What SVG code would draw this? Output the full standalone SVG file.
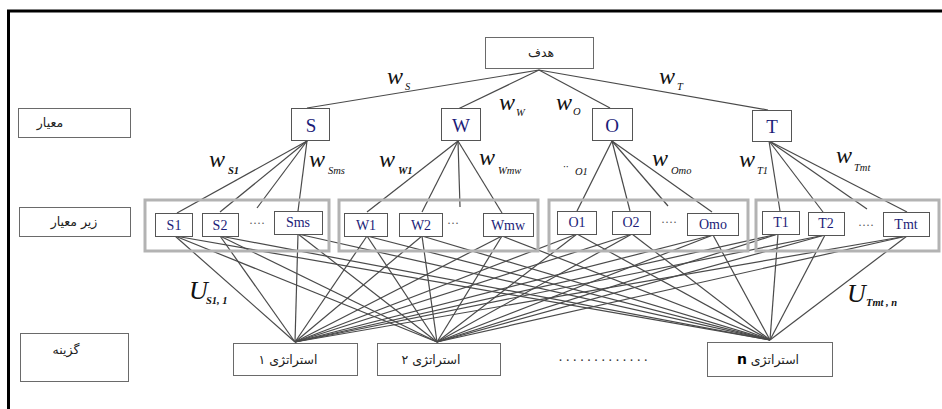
<svg xmlns="http://www.w3.org/2000/svg" width="942" height="409" viewBox="0 0 942 409">
<defs>
<style>
.frame{stroke:#000;stroke-width:3;fill:none}
.lbl{fill:#fff;stroke:#6a6a6a;stroke-width:1}
.fa{font-family:"DejaVu Sans",sans-serif;font-size:12.5px;fill:#222;text-anchor:middle}
.crit{fill:#fff;stroke:#555;stroke-width:1}
.ct{font-family:"Liberation Serif",serif;font-size:19px;text-anchor:middle;fill:#1c1c78}
.grp{fill:none;stroke:#b3b3b3;stroke-width:3}
.sub{fill:#fff;stroke:#555;stroke-width:1}
.st{font-family:"Liberation Serif",serif;font-size:14px;text-anchor:middle;fill:#1c1c78}
.dots{font-family:"Liberation Serif",serif;font-size:12px;text-anchor:middle;fill:#555}
.w{font-family:"Liberation Serif",serif;font-style:italic;font-size:24px;fill:#111}
.ws{font-family:"Liberation Serif",serif;font-style:italic;font-size:10.5px;fill:#111}
.u{font-family:"Liberation Serif",serif;font-style:italic;font-size:26px;fill:#111}
.con line{stroke:#4a4a4a;stroke-width:1.2}
</style>
</defs>
<rect width="942" height="409" fill="#fff"/>
<path class="frame" d="M8.5 409 V11 H942"/>

<g id="connectors" class="con">
<line x1="539" y1="70" x2="307" y2="108"/>
<line x1="539" y1="70" x2="458" y2="109"/>
<line x1="539" y1="70" x2="610" y2="108"/>
<line x1="539" y1="70" x2="768" y2="110"/>

<line x1="307" y1="141" x2="177" y2="213"/>
<line x1="307" y1="141" x2="220" y2="212"/>
<line x1="307" y1="141" x2="257" y2="208"/>
<line x1="307" y1="141" x2="298" y2="211"/>
<line x1="458" y1="141" x2="367" y2="212"/>
<line x1="458" y1="141" x2="422" y2="212"/>
<line x1="458" y1="141" x2="460" y2="207"/>
<line x1="458" y1="141" x2="502" y2="213"/>
<line x1="612" y1="141" x2="577" y2="211"/>
<line x1="612" y1="141" x2="630" y2="211"/>
<line x1="612" y1="141" x2="668" y2="206"/>
<line x1="612" y1="141" x2="712" y2="212"/>
<line x1="769" y1="141" x2="780" y2="211"/>
<line x1="769" y1="141" x2="823" y2="212"/>
<line x1="769" y1="141" x2="867" y2="209"/>
<line x1="769" y1="141" x2="907" y2="212"/>

<line x1="175" y1="236" x2="295" y2="342"/><line x1="175" y1="236" x2="437" y2="342"/><line x1="175" y1="236" x2="770" y2="340"/>
<line x1="220" y1="236" x2="295" y2="342"/><line x1="220" y1="236" x2="437" y2="342"/><line x1="220" y1="236" x2="770" y2="340"/>
<line x1="298" y1="234" x2="295" y2="342"/><line x1="298" y1="234" x2="437" y2="342"/><line x1="298" y1="234" x2="770" y2="340"/>
<line x1="367" y1="236" x2="295" y2="342"/><line x1="367" y1="236" x2="437" y2="342"/><line x1="367" y1="236" x2="770" y2="340"/>
<line x1="422" y1="236" x2="295" y2="342"/><line x1="422" y1="236" x2="437" y2="342"/><line x1="422" y1="236" x2="770" y2="340"/>
<line x1="502" y1="236" x2="295" y2="342"/><line x1="502" y1="236" x2="437" y2="342"/><line x1="502" y1="236" x2="770" y2="340"/>
<line x1="577" y1="234" x2="295" y2="342"/><line x1="577" y1="234" x2="437" y2="342"/><line x1="577" y1="234" x2="770" y2="340"/>
<line x1="632" y1="234" x2="295" y2="342"/><line x1="632" y1="234" x2="437" y2="342"/><line x1="632" y1="234" x2="770" y2="340"/>
<line x1="713" y1="235" x2="295" y2="342"/><line x1="713" y1="235" x2="437" y2="342"/><line x1="713" y1="235" x2="770" y2="340"/>
<line x1="778" y1="234" x2="295" y2="342"/><line x1="778" y1="234" x2="437" y2="342"/><line x1="778" y1="234" x2="770" y2="340"/>
<line x1="825" y1="235" x2="295" y2="342"/><line x1="825" y1="235" x2="437" y2="342"/><line x1="825" y1="235" x2="770" y2="340"/>
<line x1="907" y1="236" x2="295" y2="342"/><line x1="907" y1="236" x2="437" y2="342"/><line x1="907" y1="236" x2="770" y2="340"/>
</g>

<g id="weights">
<text class="w" x="387" y="84">w</text><text class="ws" x="405" y="90">S</text>
<text class="w" x="499" y="110">w</text><text class="ws" x="516" y="116">W</text>
<text class="w" x="556" y="110">w</text><text class="ws" x="573" y="115">O</text>
<text class="w" x="659" y="84">w</text><text class="ws" x="677" y="90">T</text>
<text class="w" x="209" y="167">w</text><text class="ws" x="228" y="174" font-weight="bold">S1</text>
<text class="w" x="309" y="167">w</text><text class="ws" x="328" y="174" font-size="9.5">Sms</text>
<text class="w" x="379" y="167">w</text><text class="ws" x="398" y="174" font-weight="bold">W1</text>
<text class="w" x="479" y="165">w</text><text class="ws" x="498" y="174" font-size="9.5">Wmw</text>
<text class="ws" x="563" y="170" font-size="11">··</text><text class="ws" x="575" y="175" font-size="11">O1</text>
<text class="w" x="652" y="166">w</text><text class="ws" x="671" y="174" font-size="10.5">Omo</text>
<text class="w" x="739" y="167">w</text><text class="ws" x="757" y="174" font-size="11">T1</text>
<text class="w" x="836" y="163">w</text><text class="ws" x="854" y="171" font-size="9.5">Tmt</text>
<text class="u" x="189" y="299">U</text><text class="ws" x="206" y="304" font-size="9" font-weight="bold">S1, 1</text>
<text class="u" x="847" y="302">U</text><text class="ws" x="866" y="306" font-size="8" font-weight="bold">Tmt , n</text>
</g>

<g id="goal"><rect class="lbl" x="485.5" y="37.5" width="108" height="31"/><text class="fa" x="541" y="57" direction="rtl">هدف</text></g>

<g id="label-criteria"><rect class="lbl" x="18.5" y="108.5" width="112" height="29"/><text class="fa" x="50" y="127" direction="rtl">معیار</text></g>
<g id="label-subcriteria"><rect class="lbl" x="19.5" y="207.5" width="111" height="29"/><text class="fa" x="74" y="226" direction="rtl">زیر  معیار</text></g>
<g id="label-alternative"><rect class="lbl" x="20.5" y="333.5" width="108" height="48"/><text class="fa" x="66" y="354" direction="rtl">گزینه</text></g>

<g id="S"><rect class="crit" x="291.5" y="108.5" width="38" height="32"/><text class="ct" x="311" y="132">S</text></g>
<g id="W"><rect class="crit" x="441.5" y="108.5" width="39" height="32"/><text class="ct" x="461" y="132">W</text></g>
<g id="O"><rect class="crit" x="592.5" y="108.5" width="40" height="32"/><text class="ct" x="612" y="132" fill="#111">O</text></g>
<g id="T"><rect class="crit" x="752.5" y="110.5" width="39" height="31"/><text class="ct" x="772" y="133">T</text></g>

<g id="group-S"><rect class="grp" x="145" y="200" width="184" height="51"/></g>
<g id="group-W"><rect class="grp" x="339" y="200" width="199" height="51"/></g>
<g id="group-O"><rect class="grp" x="549" y="200" width="199" height="51"/></g>
<g id="group-T"><rect class="grp" x="756" y="200" width="183" height="51"/></g>

<g id="S1"><rect class="sub" x="155.5" y="213.5" width="37" height="23"/><text class="st" x="174" y="230">S1</text></g>
<g id="S2"><rect class="sub" x="202.5" y="213.5" width="36" height="23"/><text class="st" x="220" y="230">S2</text></g>
<text class="dots" x="257" y="227">····</text>
<g id="Sms"><rect class="sub" x="274.5" y="211.5" width="48" height="23"/><text class="st" x="298" y="227">Sms</text></g>
<g id="W1"><rect class="sub" x="344.5" y="213.5" width="43" height="23"/><text class="st" x="366" y="230">W1</text></g>
<g id="W2"><rect class="sub" x="399.5" y="213.5" width="43" height="23"/><text class="st" x="421" y="230">W2</text></g>
<text class="dots" x="453" y="227">···</text>
<g id="Wmw"><rect class="sub" x="483.5" y="213.5" width="50" height="23"/><text class="st" x="508" y="230">Wmw</text></g>
<g id="O1"><rect class="sub" x="557.5" y="211.5" width="39" height="23"/><text class="st" x="577" y="227">O1</text></g>
<g id="O2"><rect class="sub" x="612.5" y="211.5" width="38" height="23"/><text class="st" x="631" y="227">O2</text></g>
<text class="dots" x="669" y="226">····</text>
<g id="Omo"><rect class="sub" x="687.5" y="213.5" width="51" height="22"/><text class="st" x="713" y="229">Omo</text></g>
<g id="T1"><rect class="sub" x="762.5" y="211.5" width="37" height="23"/><text class="st" x="781" y="227">T1</text></g>
<g id="T2"><rect class="sub" x="808.5" y="212.5" width="36" height="23"/><text class="st" x="826" y="228">T2</text></g>
<text class="dots" x="866" y="229">····</text>
<g id="Tmt"><rect class="sub" x="883.5" y="212.5" width="46" height="24"/><text class="st" x="906" y="229">Tmt</text></g>

<g id="strategy-1"><rect class="lbl" x="233.5" y="343.5" width="124" height="32"/><text class="fa" x="288" y="364" direction="rtl">استراتژی ۱</text></g>
<g id="strategy-2"><rect class="lbl" x="377.5" y="343.5" width="123" height="32"/><text class="fa" x="431" y="364" direction="rtl">استراتژی ۲</text></g>
<text x="605" y="361" font-family="Liberation Serif, serif" font-size="14" letter-spacing="3.6" text-anchor="middle" fill="#333">.............</text>
<g id="strategy-n"><rect class="lbl" x="707.5" y="342.5" width="125" height="34"/><text class="fa" x="768" y="364" direction="rtl">استراتژی <tspan font-weight="bold" font-size="14" fill="#000">n</tspan></text></g>
</svg>
